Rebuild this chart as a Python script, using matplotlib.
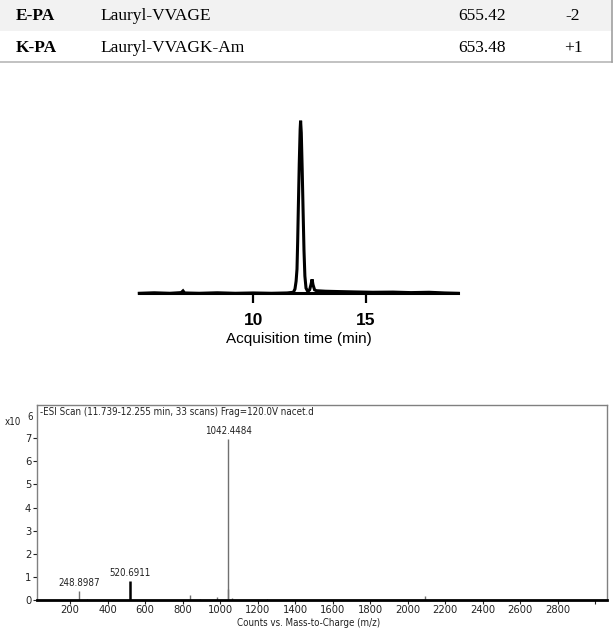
"""Composite figure: peptide amphiphile table, LC trace and ESI mass spectrum."""
import matplotlib
matplotlib.use("Agg")
import matplotlib.pyplot as plt
from matplotlib.patches import Rectangle

W, H = 615, 633

# table rows
pa_names = ["E-PA", "K-PA"]
pa_sequences = ["Lauryl-VVAGE", "Lauryl-VVAGK-Am"]
pa_masses = ["655.42", "653.48"]
pa_charges = ["-2", "+1"]

# LC trace (normalised absorbance vs acquisition time, min)
chrom_time = [4.94, 5.6, 6.3, 6.8, 6.88, 6.95, 7.6, 8.4, 9.2, 10.0, 10.8, 11.5,
              11.78, 11.85, 11.9, 11.94, 11.97, 12.0, 12.04, 12.08, 12.10, 12.13,
              12.17, 12.21, 12.25, 12.29, 12.34, 12.42, 12.5, 12.56, 12.61, 12.65,
              12.72, 12.8, 13.2, 13.8, 14.5, 15.3, 16.2, 17.0, 17.8, 18.5, 19.1]
chrom_signal = [0.0, 0.003, 0.0, 0.004, 0.014, 0.002, 0.0, 0.003, 0.0, 0.002, 0.0, 0.002,
                0.006, 0.025, 0.07, 0.14, 0.3, 0.5, 0.75, 0.95, 1.0, 0.93,
                0.72, 0.48, 0.25, 0.1, 0.03, 0.01, 0.02, 0.05, 0.081, 0.05,
                0.02, 0.015, 0.012, 0.01, 0.008, 0.006, 0.007, 0.004, 0.006, 0.002, 0.0]

# mass spectrum (m/z, counts x 10^6)
ms_mz = [248.8987, 292, 520.6911, 840, 893, 982, 1042.4484, 1043.45, 1065, 1248, 2093]
ms_counts = [0.39, 0.04, 0.81, 0.22, 0.05, 0.12, 6.98, 0.45, 0.08, 0.05, 0.15]
ms_dark = [False, False, True, False, False, False, False, False, False, False, False]
ms_labelled = [248.8987, 520.6911, 1042.4484]
ms_xticks = list(range(200, 2801, 200))
ms_yticks = list(range(0, 8))
ms_title = "-ESI Scan (11.739-12.255 min, 33 scans) Frag=120.0V nacet.d"


def box(left, top, right, bottom):
    return [left / W, 1 - bottom / H, (right - left) / W, (bottom - top) / H]


fig = plt.figure(figsize=(W / 100, H / 100), dpi=100)

# ---- table (pixel overlay) ----
tab = fig.add_axes([0, 0, 1, 1])
tab.set_xlim(0, W)
tab.set_ylim(H, 0)
tab.axis("off")
tab.add_patch(Rectangle((0, 0), 612, 31, facecolor="#f2f2f2", edgecolor="none"))
tab.plot([0, 612], [62, 62], color="#b8b8b8", lw=1.2)
tab.plot([612, 612], [0, 62], color="#a0a0a0", lw=1.2)
serif = dict(family="Liberation Serif", fontsize=12.5, va="baseline")
for i in range(len(pa_names)):
    yb = 20 + 32 * i
    tab.text(16, yb, pa_names[i], fontweight="bold", **serif)
    tab.text(100, yb, pa_sequences[i], **serif)
    tab.text(506, yb, pa_masses[i], ha="right", **serif)
    tab.text(573, yb, pa_charges[i], ha="center", **serif)

# ---- LC chromatogram ----
ax1 = fig.add_axes(box(139.3, 120.7, 458.3, 293.3))
ax1.plot(chrom_time, chrom_signal, color="black", lw=2.2, clip_on=False,
         solid_joinstyle="miter")
ax1.set_xlim(4.94, 19.1)
ax1.set_ylim(0, 1)
for s in ["top", "right", "left"]:
    ax1.spines[s].set_visible(False)
ax1.spines["bottom"].set_linewidth(2.2)
ax1.set_yticks([])
ax1.set_xticks([10, 15])
ax1.tick_params(axis="x", direction="out", length=7, width=1.6, pad=7,
                labelsize=12.5)
for lab in ax1.get_xticklabels():
    lab.set_fontweight("bold")
    lab.set_family("Liberation Sans")
ax1.set_xlabel("Acquisition time (min)", family="Liberation Sans", fontsize=11,
               labelpad=3)
ax1.patch.set_alpha(0)

# ---- mass spectrum ----
ink = "#222222"
small = dict(family="DejaVu Sans", fontstretch="condensed", fontsize=7)
ax2 = fig.add_axes(box(36.7, 404.7, 607, 599.8))
for mz, c, dark in zip(ms_mz, ms_counts, ms_dark):
    ax2.vlines(mz, 0, c, color="black" if dark else "#707070",
               lw=1.8 if dark else 1.0)
for mz in ms_labelled:
    c = ms_counts[ms_mz.index(mz)]
    ax2.annotate(f"{mz:.4f}", (mz, c), xytext=(0, 2), textcoords="offset points",
                 ha="center", va="bottom", color=ink, **small)
ax2.set_xlim(22, 3063)
ax2.set_ylim(0, 8.457)
ax2.set_xticks(ms_xticks)
ax2.set_xticks([3000], minor=True)
ax2.set_yticks(ms_yticks)
ax2.tick_params(which="both", length=3, width=0.8, pad=1, colors=ink,
                labelsize=8)
for lab in ax2.get_xticklabels() + ax2.get_yticklabels():
    lab.set_fontstretch("condensed")
for s in ["top", "right", "left"]:
    ax2.spines[s].set_color("#808080")
    ax2.spines[s].set_linewidth(1.0)
ax2.spines["bottom"].set_linewidth(2.0)
ax2.spines["bottom"].set_color("black")
ax2.annotate(ms_title, (0, 1), xytext=(2.5, -1.5), xycoords="axes fraction",
             textcoords="offset points", ha="left", va="top", color=ink, **small)
ax2.set_xlabel("Counts vs. Mass-to-Charge (m/z)", labelpad=1, color=ink,
               family="DejaVu Sans", fontstretch="condensed", fontsize=7)
ax2.xaxis.set_label_coords(0.477, -0.095)
tab.text(5, 425, "x10", color=ink, va="baseline", **small)
tab.text(27, 420, "6", color=ink, va="baseline", **small)

fig.savefig("out.png", dpi=100)
